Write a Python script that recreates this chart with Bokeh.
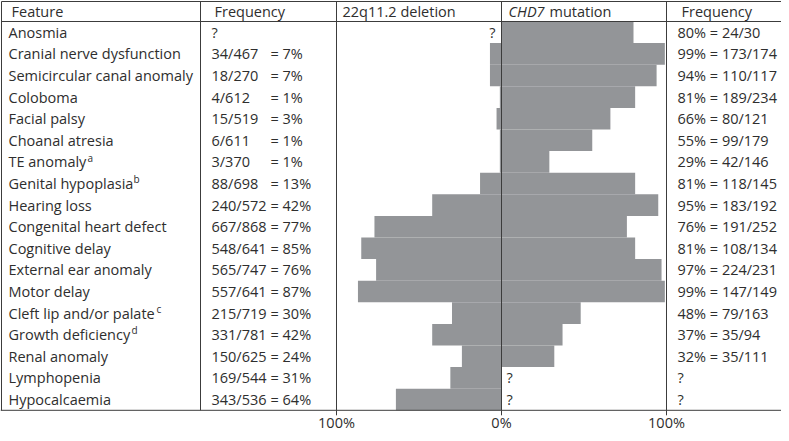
from bokeh.plotting import figure
from bokeh.models import Range1d
from bokeh.core.properties import value
from bokeh.embed import file_html
from bokeh.resources import INLINE

# ---------------- data ----------------
features = ["Anosmia", "Cranial nerve dysfunction", "Semicircular canal anomaly", "Coloboma",
            "Facial palsy", "Choanal atresia", "TE anomaly", "Genital hypoplasia",
            "Hearing loss", "Congenital heart defect", "Cognitive delay", "External ear anomaly",
            "Motor delay", "Cleft lip and/or palate", "Growth deficiency",
            "Renal anomaly", "Lymphopenia", "Hypocalcaemia"]
footnotes = ["", "", "", "", "", "", "a", "b", "", "", "", "", "", "c", "d", "", "", ""]
del_num = [None, 34, 18, 4, 15, 6, 3, 88, 240, 667, 548, 565, 557, 215, 331, 150, 169, 343]
del_den = [None, 467, 270, 612, 519, 611, 370, 698, 572, 868, 641, 747, 641, 719, 781, 625, 544, 536]
del_pct = [None, 7, 7, 1, 3, 1, 1, 13, 42, 77, 85, 76, 87, 30, 42, 24, 31, 64]
chd_num = [24, 173, 110, 189, 80, 99, 42, 118, 183, 191, 108, 224, 147, 79, 35, 35, None, None]
chd_den = [30, 174, 117, 234, 121, 179, 146, 145, 192, 252, 134, 231, 149, 163, 94, 111, None, None]
chd_pct = [80, 99, 94, 81, 66, 55, 29, 81, 95, 76, 81, 97, 99, 48, 37, 32, None, None]
tick_values = [-100, 0, 100]
tick_labels = ["100%", "0%", "100%"]
header_feature = "Feature"
header_freq = "Frequency"
header_del = "22q11.2 deletion"
header_chd_gene = "CHD7"
header_chd_rest = "mutation"

# ---------------- layout ----------------
W, H = 781, 433
PX_PER_PCT = 1.65
ZERO_PX = 501
RH = 21.6          # row height in px
HEAD_PX = 21       # header line position in px from figure top
FONT = value("Open Sans")
TXT = "#2e2e2e"
LINE = "#3c3c3c"
BAR = "#939598"
FS = "14.5px"
# estimated pixel x where each footnote mark sits (after the feature name)
FOOT_X = {"a": 87, "b": 133, "c": 156, "d": 131}


def px(v):
    return (v - ZERO_PX) / PX_PER_PCT


def py(v):
    return (v - HEAD_PX) / RH


n = len(features)
TOP = py(1)

p = figure(width=W, height=H, output_backend="svg", toolbar_location=None,
           x_range=Range1d(px(0), px(W)), y_range=Range1d(py(H), py(0)),
           x_axis_location=None, y_axis_location=None,
           min_border=0, outline_line_color=None,
           background_fill_color="white", border_fill_color="white")
p.grid.visible = False

# bars
rows = list(range(n))
d_rows = [i for i in rows if del_pct[i] is not None]
p.quad(left=[-del_pct[i] for i in d_rows], right=[0] * len(d_rows),
       top=[i for i in d_rows], bottom=[i + 1 for i in d_rows],
       fill_color=BAR, line_color=None)
c_rows = [i for i in rows if chd_pct[i] is not None]
p.quad(left=[0] * len(c_rows), right=[chd_pct[i] for i in c_rows],
       top=[i for i in c_rows], bottom=[i + 1 for i in c_rows],
       fill_color=BAR, line_color=None)

# table lines
vx = [px(1), px(200), -100, 0, 100]
p.segment(x0=vx, y0=[TOP] * len(vx), x1=vx, y1=[n] * len(vx), line_color=LINE, line_width=1)
p.segment(x0=[px(1), px(1), px(0)], y0=[TOP, 0, n], x1=[px(W)] * 3, y1=[TOP, 0, n],
          line_color=LINE, line_width=1)
# tick marks on the percentage scale
p.segment(x0=tick_values, y0=[n] * 3, x1=tick_values, y1=[n + 5 / RH] * 3,
          line_color=LINE, line_width=1)


def txt(xs, ys, texts, align="left", style="normal", size=FS):
    p.text(x=xs, y=ys, text=texts, text_font=FONT, text_font_size=size,
           text_color=TXT, text_align=align, text_baseline="middle",
           text_font_style=style)


hy = (TOP + 0) / 2 + 0.02
txt([px(11)], [hy], [header_feature])
txt([px(214)], [hy], [header_freq])
txt([px(342)], [hy], [header_del])
txt([px(508)], [hy], [header_chd_gene], style="italic")
txt([px(549)], [hy], [header_chd_rest])
txt([px(681)], [hy], [header_freq])

yc = [i + 0.5 for i in rows]
txt([px(8)] * n, yc, features)

fr = [i for i in rows if footnotes[i]]
txt([px(FOOT_X[footnotes[i]]) for i in fr], [yc[i] - 0.2 for i in fr],
    [footnotes[i] for i in fr], size="10px")

frac = ["?" if del_num[i] is None else f"{del_num[i]}/{del_den[i]}" for i in rows]
txt([px(211)] * n, yc, frac)
pr = [i for i in rows if del_pct[i] is not None]
txt([px(270)] * len(pr), [yc[i] for i in pr], [f"= {del_pct[i]}%" for i in pr])

right = ["?" if chd_pct[i] is None else f"{chd_pct[i]}% = {chd_num[i]}/{chd_den[i]}" for i in rows]
txt([px(677)] * n, yc, right)

# question marks inside the chart for missing values
qd = [i for i in rows if del_pct[i] is None]
txt([-3.6] * len(qd), [yc[i] for i in qd], ["?"] * len(qd), align="right")
qc = [i for i in rows if chd_pct[i] is None]
txt([3.0] * len(qc), [yc[i] for i in qc], ["?"] * len(qc))

# scale labels under the chart
txt(tick_values, [n + 12.5 / RH] * 3, tick_labels, align="center")

open("out.html", "w").write(file_html(p, INLINE))
